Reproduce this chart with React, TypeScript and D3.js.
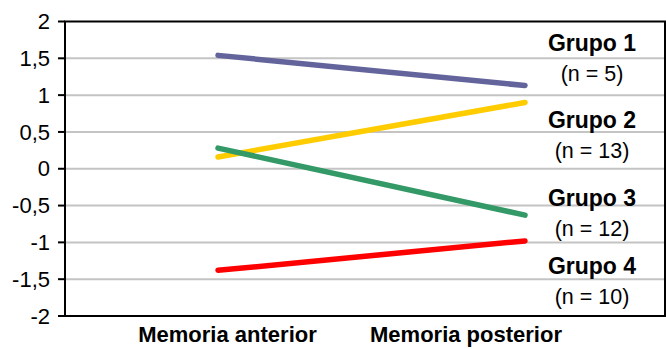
import React from "react";
import * as d3 from "d3";

const categories = ["Memoria anterior", "Memoria posterior"];
const groupNames = ["Grupo 1", "Grupo 2", "Grupo 3", "Grupo 4"];
const groupCounts = ["(n = 5)", "(n = 13)", "(n = 12)", "(n = 10)"];
const grupo1 = [1.54, 1.13];
const grupo2 = [0.16, 0.9];
const grupo3 = [0.28, -0.63];
const grupo4 = [-1.38, -0.98];
const yTicks = [2, 1.5, 1, 0.5, 0, -0.5, -1, -1.5, -2];
const yTickLabels = ["2", "1,5", "1", "0,5", "0", "-0,5", "-1", "-1,5", "-2"];

const series = [grupo1, grupo2, grupo3, grupo4];
const colors = ["#64649c", "#ffcc00", "#339966", "#ff0000"];
// annotation anchor levels (data units) for the group labels
const labelLevels = [1.6, 0.55, -0.5, -1.43];

const W = 666;
const H = 349;
const left = 65;
const right = 665;
const top = 21.5;
const bottom = 316;
const font = "'Liberation Sans', Arial, sans-serif";

export default function App() {
  const y = d3.scaleLinear().domain([-2, 2]).range([bottom, top]);
  const x = d3.scalePoint<string>().domain(categories).range([218, 525]);
  const xLabel = d3.scalePoint<string>().domain(categories).range([227.5, 466]);
  const line = d3
    .line<number>()
    .x((_, i) => x(categories[i]) as number)
    .y((d) => y(d));

  return (
    <div style={{ position: "fixed", left: 0, top: 0 }}>
      <svg width={W} height={H} style={{ display: "block", background: "#fff" }}>
        {yTicks
          .filter((t) => t !== 2 && t !== -2)
          .map((t) => (
            <line key={"g" + t} x1={left} x2={right} y1={y(t)} y2={y(t)} stroke="#c4c4c4" strokeWidth={2} />
          ))}
        <rect x={left} y={top} width={right - left} height={bottom - top} fill="none" stroke="#000" strokeWidth={2} />
        {yTicks.map((t, i) => (
          <g key={"t" + t}>
            <line x1={left - 7} x2={left} y1={y(t)} y2={y(t)} stroke="#000" strokeWidth={2} />
            <text x={50} y={y(t)} dy="0.35em" textAnchor="end" fontFamily={font} fontSize={22} fill="#000">
              {yTickLabels[i]}
            </text>
          </g>
        ))}
        {series.map((s, i) => (
          <path key={"s" + i} d={line(s) || ""} fill="none" stroke={colors[i]} strokeWidth={5.5} strokeLinecap="round" />
        ))}
        {categories.map((c) => (
          <text key={c} x={xLabel(c)} y={342} textAnchor="middle" fontFamily={font} fontSize={22} fontWeight="bold" fill="#000">
            {c}
          </text>
        ))}
        {groupNames.map((g, i) => (
          <g key={g}>
            <text x={592} y={y(labelLevels[i])} textAnchor="middle" fontFamily={font} fontSize={23} fontWeight="bold" fill="#000">
              {g}
            </text>
            <text x={592} y={y(labelLevels[i]) + 30} textAnchor="middle" fontFamily={font} fontSize={21.5} fill="#000">
              {groupCounts[i]}
            </text>
          </g>
        ))}
      </svg>
    </div>
  );
}
